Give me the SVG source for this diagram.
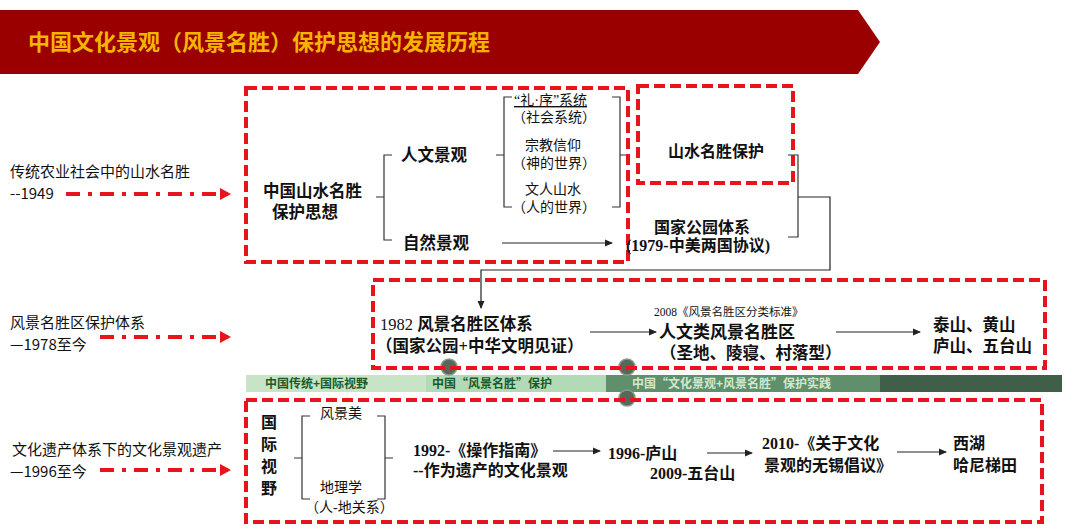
<svg xmlns="http://www.w3.org/2000/svg" width="1080" height="530" viewBox="0 0 1080 530">
<defs>
<marker id="ah" markerWidth="8" markerHeight="8" refX="7" refY="4" orient="auto" markerUnits="userSpaceOnUse"><path d="M0,0.5 L8,4 L0,7.5z" fill="#222"/></marker>
<marker id="rh" markerWidth="12" markerHeight="12" refX="10" refY="6" orient="auto" markerUnits="userSpaceOnUse"><path d="M0,0 L11,6 L0,12z" fill="#e8141c"/></marker>
</defs>
<style>
.box{fill:none;stroke:#e8141c;stroke-width:4;stroke-dasharray:11 5}
.dd{stroke:#e8141c;stroke-width:4;stroke-dasharray:14 8 4 8;fill:none}
.s{font-family:"Liberation Serif","Noto Sans CJK SC",serif;fill:#111}
.b{font-weight:bold}
.l{font-family:"Noto Sans CJK SC","Noto Sans",sans-serif;fill:#111;font-size:15px}
.g{font-family:"Noto Sans CJK SC",sans-serif;font-size:12px;font-weight:bold}
.c{fill:none;stroke:#333;stroke-width:1.2}
.ln{stroke:#222;stroke-width:1.2;fill:none}
</style>
<rect width="1080" height="530" fill="#fff"/>
<g id="header">
<polygon points="0,10 858,10 880,42 858,74 0,74" fill="#9b0000"/>
<text x="28" y="50" font-family="Noto Sans CJK SC,sans-serif" font-weight="bold" font-size="22" fill="#f5b400">中国文化景观（风景名胜）保护思想的发展历程</text>
</g>
<g id="side-labels">
<text class="l" x="10" y="177">传统农业社会中的山水名胜</text>
<text class="l" x="10" y="199">--1949</text>
<text class="l" x="10" y="328">风景名胜区保护体系</text>
<text class="l" x="10" y="350">—1978至今</text>
<text class="l" x="12" y="455">文化遗产体系下的文化景观遗产</text>
<text class="l" x="10" y="477">—1996至今</text>
</g>
<g id="connectors">
<path class="dd" d="M66,194 H230" marker-end="url(#rh)"/>
<path class="dd" d="M100,337 H230" marker-end="url(#rh)"/>
<path class="dd" d="M100,470 H230" marker-end="url(#rh)"/>
<path class="c" d="M392,155 h-8 v85 h8 M384,197 h-8"/>
<path class="c" d="M512,97 h-8 v110 h8 M504,155 h-8"/>
<path class="c" d="M612,97 h8 v110 h-8 M620,155 h8"/>
<path class="ln" d="M502,243 H612" marker-end="url(#ah)"/>
<path class="c" d="M788,155 h10 v82 h-10"/>
<path class="ln" d="M798,197 H830 V270 H481 V308" marker-end="url(#ah)"/>
<path class="ln" d="M590,332 H656" marker-end="url(#ah)"/>
<path class="ln" d="M836,332 H920" marker-end="url(#ah)"/>
<path class="c" d="M310,416 h-8 v83 h8 M302,458 h-8"/>
<path class="c" d="M377,416 h8 v83 h-8 M385,458 h8"/>
<path class="ln" d="M553,451 H600" marker-end="url(#ah)"/>
<path class="ln" d="M707,453 H752" marker-end="url(#ah)"/>
<path class="ln" d="M897,452 H946" marker-end="url(#ah)"/>
</g>
<g id="timeline">
<rect x="246" y="375" width="180" height="17" fill="#c7e4c6"/>
<rect x="426" y="375" width="180" height="17" fill="#b3dab6"/>
<rect x="606" y="375" width="274" height="17" fill="#5f8f6b"/>
<rect x="880" y="375" width="182" height="17" fill="#3f5f49"/>
<text class="g" x="265" y="388" fill="#1d5a2a">中国传统+国际视野</text>
<text class="g" x="432" y="388" fill="#1d5a2a">中国“风景名胜”保护</text>
<text class="g" x="632" y="388" fill="#cfe8cf">中国“文化景观+风景名胜”保护实践</text>
<circle cx="449" cy="367" r="8" fill="#55685a" stroke="#8a9a8a" stroke-width="1.5"/>
<circle cx="627" cy="367" r="8" fill="#55685a" stroke="#8a9a8a" stroke-width="1.5"/>
<circle cx="627" cy="398" r="8" fill="#55685a" stroke="#8a9a8a" stroke-width="1.5"/>
</g>
<g id="box1">
<rect class="box" x="246" y="88" width="382" height="174"/>
<text class="s b" x="263" y="197" font-size="16.5">中国山水名胜</text>
<text class="s b" x="272" y="218" font-size="16.5">保护思想</text>
<text class="s b" x="401" y="161" font-size="16.5">人文景观</text>
<text class="s b" x="403" y="249" font-size="16.5">自然景观</text>
<text class="s" x="514" y="105" font-size="14" text-decoration="underline">“礼·序”系统</text>
<text class="s" x="512" y="122" font-size="14">（社会系统）</text>
<text class="s" x="525" y="150" font-size="14">宗教信仰</text>
<text class="s" x="512" y="168" font-size="14">（神的世界）</text>
<text class="s" x="525" y="194" font-size="14">文人山水</text>
<text class="s" x="512" y="212" font-size="14">（人的世界）</text>
</g>
<g id="box2">
<rect class="box" x="638" y="86" width="155" height="97"/>
<text class="s b" x="668" y="157" font-size="16">山水名胜保护</text>
</g>
<g id="guojia">
<text class="s b" x="654" y="233" font-size="16">国家公园体系</text>
<text class="s b" x="626" y="251" font-size="16">(1979-中美两国协议)</text>
</g>
<g id="box3">
<rect class="box" x="373" y="280" width="672" height="88"/>
<text class="s b" x="380" y="330" font-size="16.5"><tspan font-weight="normal">1982 </tspan>风景名胜区体系</text>
<text class="s b" x="376" y="352" font-size="16.5">（国家公园+中华文明见证）</text>
<text class="s" x="654" y="316" font-size="11.5">2008《风景名胜区分类标准》</text>
<text class="s b" x="659" y="338" font-size="17">人文类风景名胜区</text>
<text class="s b" x="660" y="359" font-size="16.5">（圣地、陵寝、村落型）</text>
<text class="s b" x="933" y="331" font-size="16.5">泰山、黄山</text>
<text class="s b" x="933" y="352" font-size="16.5">庐山、五台山</text>
</g>
<g id="box4">
<rect class="box" x="246" y="400" width="796" height="122"/>
<text class="s b" font-size="16"><tspan x="261" y="428">国</tspan><tspan x="261" y="450">际</tspan><tspan x="261" y="472">视</tspan><tspan x="261" y="494">野</tspan></text>
<text class="s" x="320" y="418" font-size="14">风景美</text>
<text class="s" x="320" y="492" font-size="14">地理学</text>
<text class="s" x="305" y="512" font-size="14">（人-地关系）</text>
<text class="s b" x="413" y="456" font-size="16">1992-《操作指南》</text>
<text class="s b" x="413" y="476" font-size="16">--作为遗产的文化景观</text>
<text class="s b" x="608" y="459" font-size="16">1996-庐山</text>
<text class="s b" x="650" y="479" font-size="16">2009-五台山</text>
<text class="s b" x="762" y="449" font-size="16">2010-《关于文化</text>
<text class="s b" x="764" y="471" font-size="16">景观的无锡倡议》</text>
<text class="s b" x="953" y="449" font-size="16">西湖</text>
<text class="s b" x="953" y="471" font-size="16">哈尼梯田</text>
</g>
</svg>
